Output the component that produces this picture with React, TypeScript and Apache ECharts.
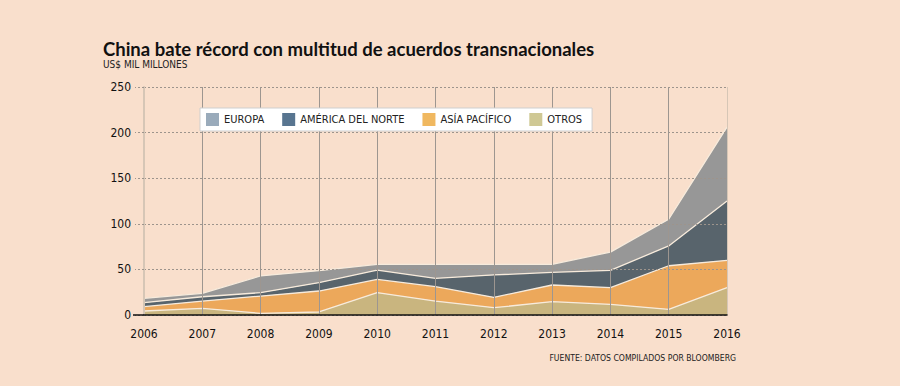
import React, { useEffect, useRef } from "react";
import * as echarts from "echarts";

const years = ["2006", "2007", "2008", "2009", "2010", "2011", "2012", "2013", "2014", "2015", "2016"];
const otros = [4.4, 7.3, 1.8, 3.3, 24.5, 15.3, 8, 14.6, 11.7, 6.2, 30];
const asiaPacifico = [4.7, 8, 19, 23, 14.5, 15.7, 11.4, 18.3, 18.3, 47.8, 30];
const americaNorte = [4.4, 4.7, 3.7, 9.1, 10.3, 9.2, 24.5, 13.9, 19, 21.7, 65];
const europa = [4.8, 3.8, 18.3, 13.2, 6.3, 15.4, 11.7, 8.8, 20, 29.3, 81];
const yTicks = [0, 50, 100, 150, 200, 250];

const FONT = "DejaVu Sans Condensed";
const TITLE_FONT = "Lato";

export default function App() {
  const ref = useRef<HTMLDivElement>(null);
  useEffect(() => {
    document.body.style.margin = "0";
    if (!ref.current) return;
    const chart = echarts.init(ref.current, undefined, { renderer: "svg" });
    const mkSeries = (name: string, data: number[], color: string) => ({
      name,
      type: "line",
      stack: "total",
      data,
      showSymbol: false,
      symbol: "none",
      smooth: false,
      lineStyle: { color: "#f7ebdc", width: 1.3 },
      areaStyle: { color, opacity: 1 },
      itemStyle: { color },
      z: 2,
    });
    const vColors = years.map((_, i) => (i === 0 || i === years.length - 1 ? "#d6c6b6" : "#9d9690"));
    chart.setOption({
      animation: false,
      backgroundColor: "#f9dfcc",
      textStyle: { fontFamily: FONT },
      title: [
        {
          text: "China bate récord con multitud de acuerdos transnacionales",
          left: 103,
          top: 40,
          padding: 0,
          textStyle: { fontFamily: TITLE_FONT, fontWeight: "bold", fontSize: 18.5, lineHeight: 17, color: "#111" },
        },
        {
          text: "US$ MIL MILLONES",
          left: 103,
          top: 58.5,
          padding: 0,
          textStyle: { fontFamily: FONT, fontWeight: "normal", fontSize: 10, lineHeight: 11, color: "#222" },
        },
        {
          text: "FUENTE: DATOS COMPILADOS POR BLOOMBERG",
          right: 164,
          top: 353,
          padding: 0,
          textStyle: { fontFamily: FONT, fontWeight: "normal", fontSize: 8.6, color: "#222" },
        },
      ],
      legend: {
        left: 200,
        top: 108,
        z: 20,
        padding: [5, 10, 5, 6],
        itemWidth: 13,
        itemHeight: 13,
        itemGap: 18,
        backgroundColor: "#ffffff",
        borderColor: "#cfcfcf",
        borderWidth: 1,
        icon: "rect",
        textStyle: { fontFamily: FONT, fontSize: 11, color: "#222" },
        data: [
          { name: "EUROPA", itemStyle: { color: "#9aabbb" } },
          { name: "AMÉRICA DEL NORTE", itemStyle: { color: "#587590" } },
          { name: "ASÍA PACÍFICO", itemStyle: { color: "#f0b860" } },
          { name: "OTROS", itemStyle: { color: "#cfc894" } },
        ],
      },
      grid: { left: 144, right: 173, top: 87, bottom: 71 },
      xAxis: {
        type: "category",
        data: years,
        boundaryGap: false,
        z: 5,
        axisLine: { show: true, lineStyle: { color: "#111", width: 1.5 } },
        axisTick: { show: false },
        axisLabel: { color: "#111", fontSize: 12, margin: 13, fontFamily: FONT },
        splitLine: { show: true, lineStyle: { color: vColors, width: 1 } },
      },
      yAxis: {
        type: "value",
        min: 0,
        max: 250,
        interval: 50,
        z: 5,
        axisLine: { show: true, lineStyle: { color: "#d6c6b6", width: 2 } },
        axisTick: { show: true, length: 9, lineStyle: { color: "#9d948c", type: [2, 2] } },
        axisLabel: {
          color: "#111",
          fontSize: 12,
          margin: 13,
          fontFamily: FONT,
          formatter: (v: number) => (yTicks.includes(v) ? String(v) : ""),
        },
        splitLine: { show: true, lineStyle: { color: "#9d948c", type: [2, 2], width: 1 } },
      },
      series: [
        mkSeries("OTROS", otros, "#c9b57f"),
        mkSeries("ASÍA PACÍFICO", asiaPacifico, "#eca85b"),
        mkSeries("AMÉRICA DEL NORTE", americaNorte, "#58646c"),
        mkSeries("EUROPA", europa, "#979797"),
      ],
    });
    const p0 = chart.convertToPixel({ gridIndex: 0 }, [0, 0]) as number[];
    if (p0) {
      chart.setOption({
        graphic: [
          {
            type: "line",
            z: 10,
            shape: { x1: p0[0] - 11, y1: p0[1], x2: p0[0], y2: p0[1] },
            style: { stroke: "#111", lineWidth: 1.5 },
          },
        ],
      });
    }
    return () => chart.dispose();
  }, []);
  return <div ref={ref} style={{ width: 900, height: 386 }} />;
}
